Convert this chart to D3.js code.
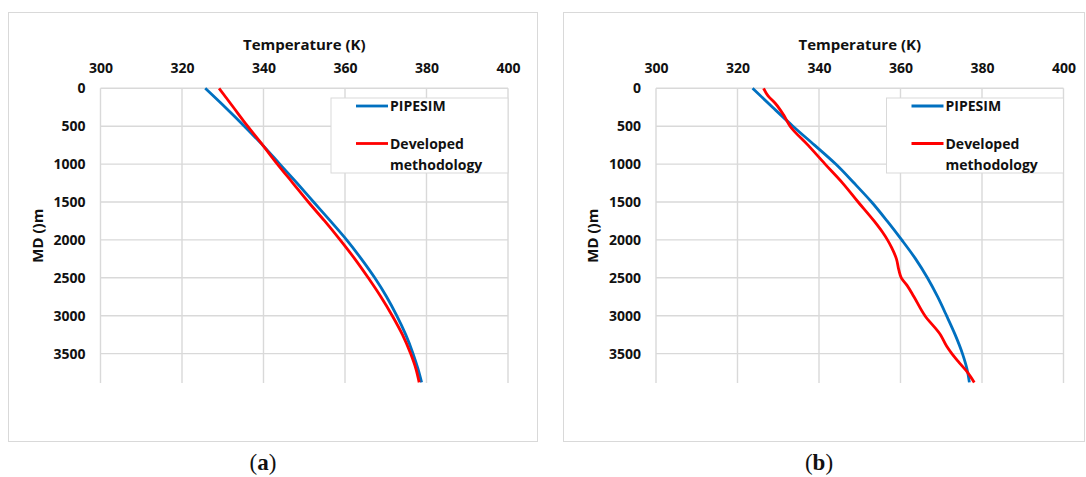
<!DOCTYPE html>
<html>
<head>
<meta charset="utf-8">
<script src="https://cdn.jsdelivr.net/npm/d3@7"></script>
<style>
  body { margin: 0; background: #fff; }
  svg { display: block; }
  .tick-label { font-family: "Open Sans", Lato, sans-serif; font-weight: 700; font-size: 14px; fill: #111; }
  .axis-title { font-family: "Open Sans", Lato, sans-serif; font-weight: 700; font-size: 15px; fill: #111; }
  .legend-text { font-family: "Open Sans", Lato, sans-serif; font-weight: 700; font-size: 14px; fill: #111; }
  .caption { font-family: "Liberation Serif", "DejaVu Serif", serif; font-size: 23px; fill: #111; }
</style>
</head>
<body>
<script>
const w = 1086;
const h = 477;

// axis ticks
const tempTicks = [300, 320, 340, 360, 380, 400];
const mdTicks = [0, 500, 1000, 1500, 2000, 2500, 3000, 3500];
const seriesNames = ["PIPESIM", "Developed methodology"];

// (a) MD in m, temperatures in K
const mdA = [0, 250, 500, 750, 1000, 1250, 1500, 1750, 2000, 2250, 2500, 2750, 3000, 3250, 3500, 3700, 3880];
const pipesimA = [325.7, 330.6, 335.3, 339.8, 344.0, 348.2, 352.3, 356.4, 360.4, 364.0, 367.3, 370.2, 372.7, 374.9, 376.7, 377.9, 378.8];
const developedA = [329.1, 332.6, 336.1, 339.8, 343.4, 347.2, 351.0, 355.0, 358.8, 362.4, 365.7, 368.8, 371.6, 374.1, 376.1, 377.4, 378.2];

// (b)
const mdPipesimB = [0, 250, 500, 750, 1000, 1250, 1500, 1750, 2000, 2250, 2500, 2750, 3000, 3250, 3500, 3700, 3880];
const pipesimB = [323.7, 328.6, 333.6, 338.9, 344.1, 348.6, 352.9, 356.7, 360.3, 363.7, 366.6, 369.1, 371.3, 373.4, 375.2, 376.3, 376.9];
const mdDevelopedB = [0, 100, 200, 350, 500, 750, 1000, 1250, 1500, 1750, 1900, 2000, 2100, 2250, 2400, 2500, 2600, 2750, 3000, 3250, 3400, 3500, 3600, 3750, 3880];
const developedB = [326.4, 327.5, 329.3, 331.3, 332.9, 337.3, 341.5, 345.8, 349.6, 353.5, 355.6, 356.8, 357.8, 359.0, 359.6, 360.2, 361.6, 363.3, 366.0, 369.8, 371.3, 372.6, 374.1, 376.5, 378.1];

const colors = ["#0070C0", "#FF0000"];
const gridColor = "#d9d9d9";

const svg = d3.select("body")
  .append("svg")
  .attr("width", w)
  .attr("height", h);

function drawPanel(box, left, series, caption, capX) {
  const top = 88.3, bottom = 383, right = left + 407.5;

  svg.append("rect")
    .attr("x", box[0] + 0.5).attr("y", 12.5)
    .attr("width", box[1] - box[0]).attr("height", 429)
    .attr("fill", "#fff").attr("stroke", gridColor).attr("stroke-width", 1);

  const xScale = d3.scaleLinear().domain([300, 400]).range([left, right]);
  const yScale = d3.scaleLinear().domain([0, 3888]).range([top, bottom]);

  const g = svg.append("g");

  // gridlines
  g.selectAll(".vgrid").data(tempTicks).enter().append("line")
    .attr("x1", d => xScale(d)).attr("x2", d => xScale(d))
    .attr("y1", top).attr("y2", bottom)
    .attr("stroke", gridColor).attr("stroke-width", 1.4);
  g.selectAll(".hgrid").data(mdTicks).enter().append("line")
    .attr("x1", left).attr("x2", right)
    .attr("y1", d => yScale(d)).attr("y2", d => yScale(d))
    .attr("stroke", gridColor).attr("stroke-width", 1.4);

  // axes (labels only)
  const xAxis = d3.axisTop(xScale).tickValues(tempTicks).tickSize(0).tickPadding(0);
  const xg = g.append("g").attr("transform", "translate(0,73)").call(xAxis);
  const yAxis = d3.axisLeft(yScale).tickValues(mdTicks).tickFormat(d3.format("d")).tickSize(0).tickPadding(15);
  const yg = g.append("g").attr("transform", "translate(" + left + ",0)").call(yAxis);
  [xg, yg].forEach(a => {
    a.select(".domain").remove();
    a.selectAll("text").attr("class", "tick-label").attr("fill", null);
    a.attr("font-family", null).attr("font-size", null);
  });

  g.append("text").attr("class", "axis-title")
    .attr("x", (left + right) / 2).attr("y", 50)
    .attr("text-anchor", "middle").text("Temperature (K)");
  g.append("text").attr("class", "axis-title")
    .attr("transform", "translate(" + (left - 58) + "," + ((top + bottom) / 2) + ") rotate(-90)")
    .attr("text-anchor", "middle").text("MD ()m");

  // curves
  const line = d3.line()
    .x(d => xScale(d[1]))
    .y(d => yScale(d[0]))
    .curve(d3.curveMonotoneY);
  series.forEach((s, i) => {
    g.append("path")
      .datum(d3.zip(s.md, s.t))
      .attr("fill", "none")
      .attr("stroke", colors[i])
      .attr("stroke-width", 2.8)
      .attr("d", line);
  });

  // legend
  const lx = left + 230.5;
  g.append("rect")
    .attr("x", lx).attr("y", 98)
    .attr("width", right - lx).attr("height", 75)
    .attr("fill", "#fff").attr("stroke", gridColor).attr("stroke-width", 1);
  const ly = [106, 143.5];
  seriesNames.forEach((name, i) => {
    g.append("line")
      .attr("x1", lx + 25).attr("x2", lx + 57)
      .attr("y1", ly[i]).attr("y2", ly[i])
      .attr("stroke", colors[i]).attr("stroke-width", 2.8);
  });
  g.append("text").attr("class", "legend-text")
    .attr("x", lx + 59).attr("y", 106).attr("dy", "0.36em").text("PIPESIM");
  g.append("text").attr("class", "legend-text")
    .attr("x", lx + 59).attr("y", 144).attr("dy", "0.36em").text("Developed");
  g.append("text").attr("class", "legend-text")
    .attr("x", lx + 59).attr("y", 165).attr("dy", "0.36em").text("methodology");

  // caption
  const cap = svg.append("text").attr("class", "caption")
    .attr("x", capX).attr("y", 470)
    .attr("text-anchor", "middle");
  cap.append("tspan").text("(");
  cap.append("tspan").attr("font-weight", 700).text(caption);
  cap.append("tspan").text(")");
}

drawPanel([8, 537], 100.5, [
  { md: mdA, t: pipesimA },
  { md: mdA, t: developedA }
], "a", 263);

drawPanel([563, 1084], 656, [
  { md: mdPipesimB, t: pipesimB },
  { md: mdDevelopedB, t: developedB }
], "b", 819);
</script>
</body>
</html>
